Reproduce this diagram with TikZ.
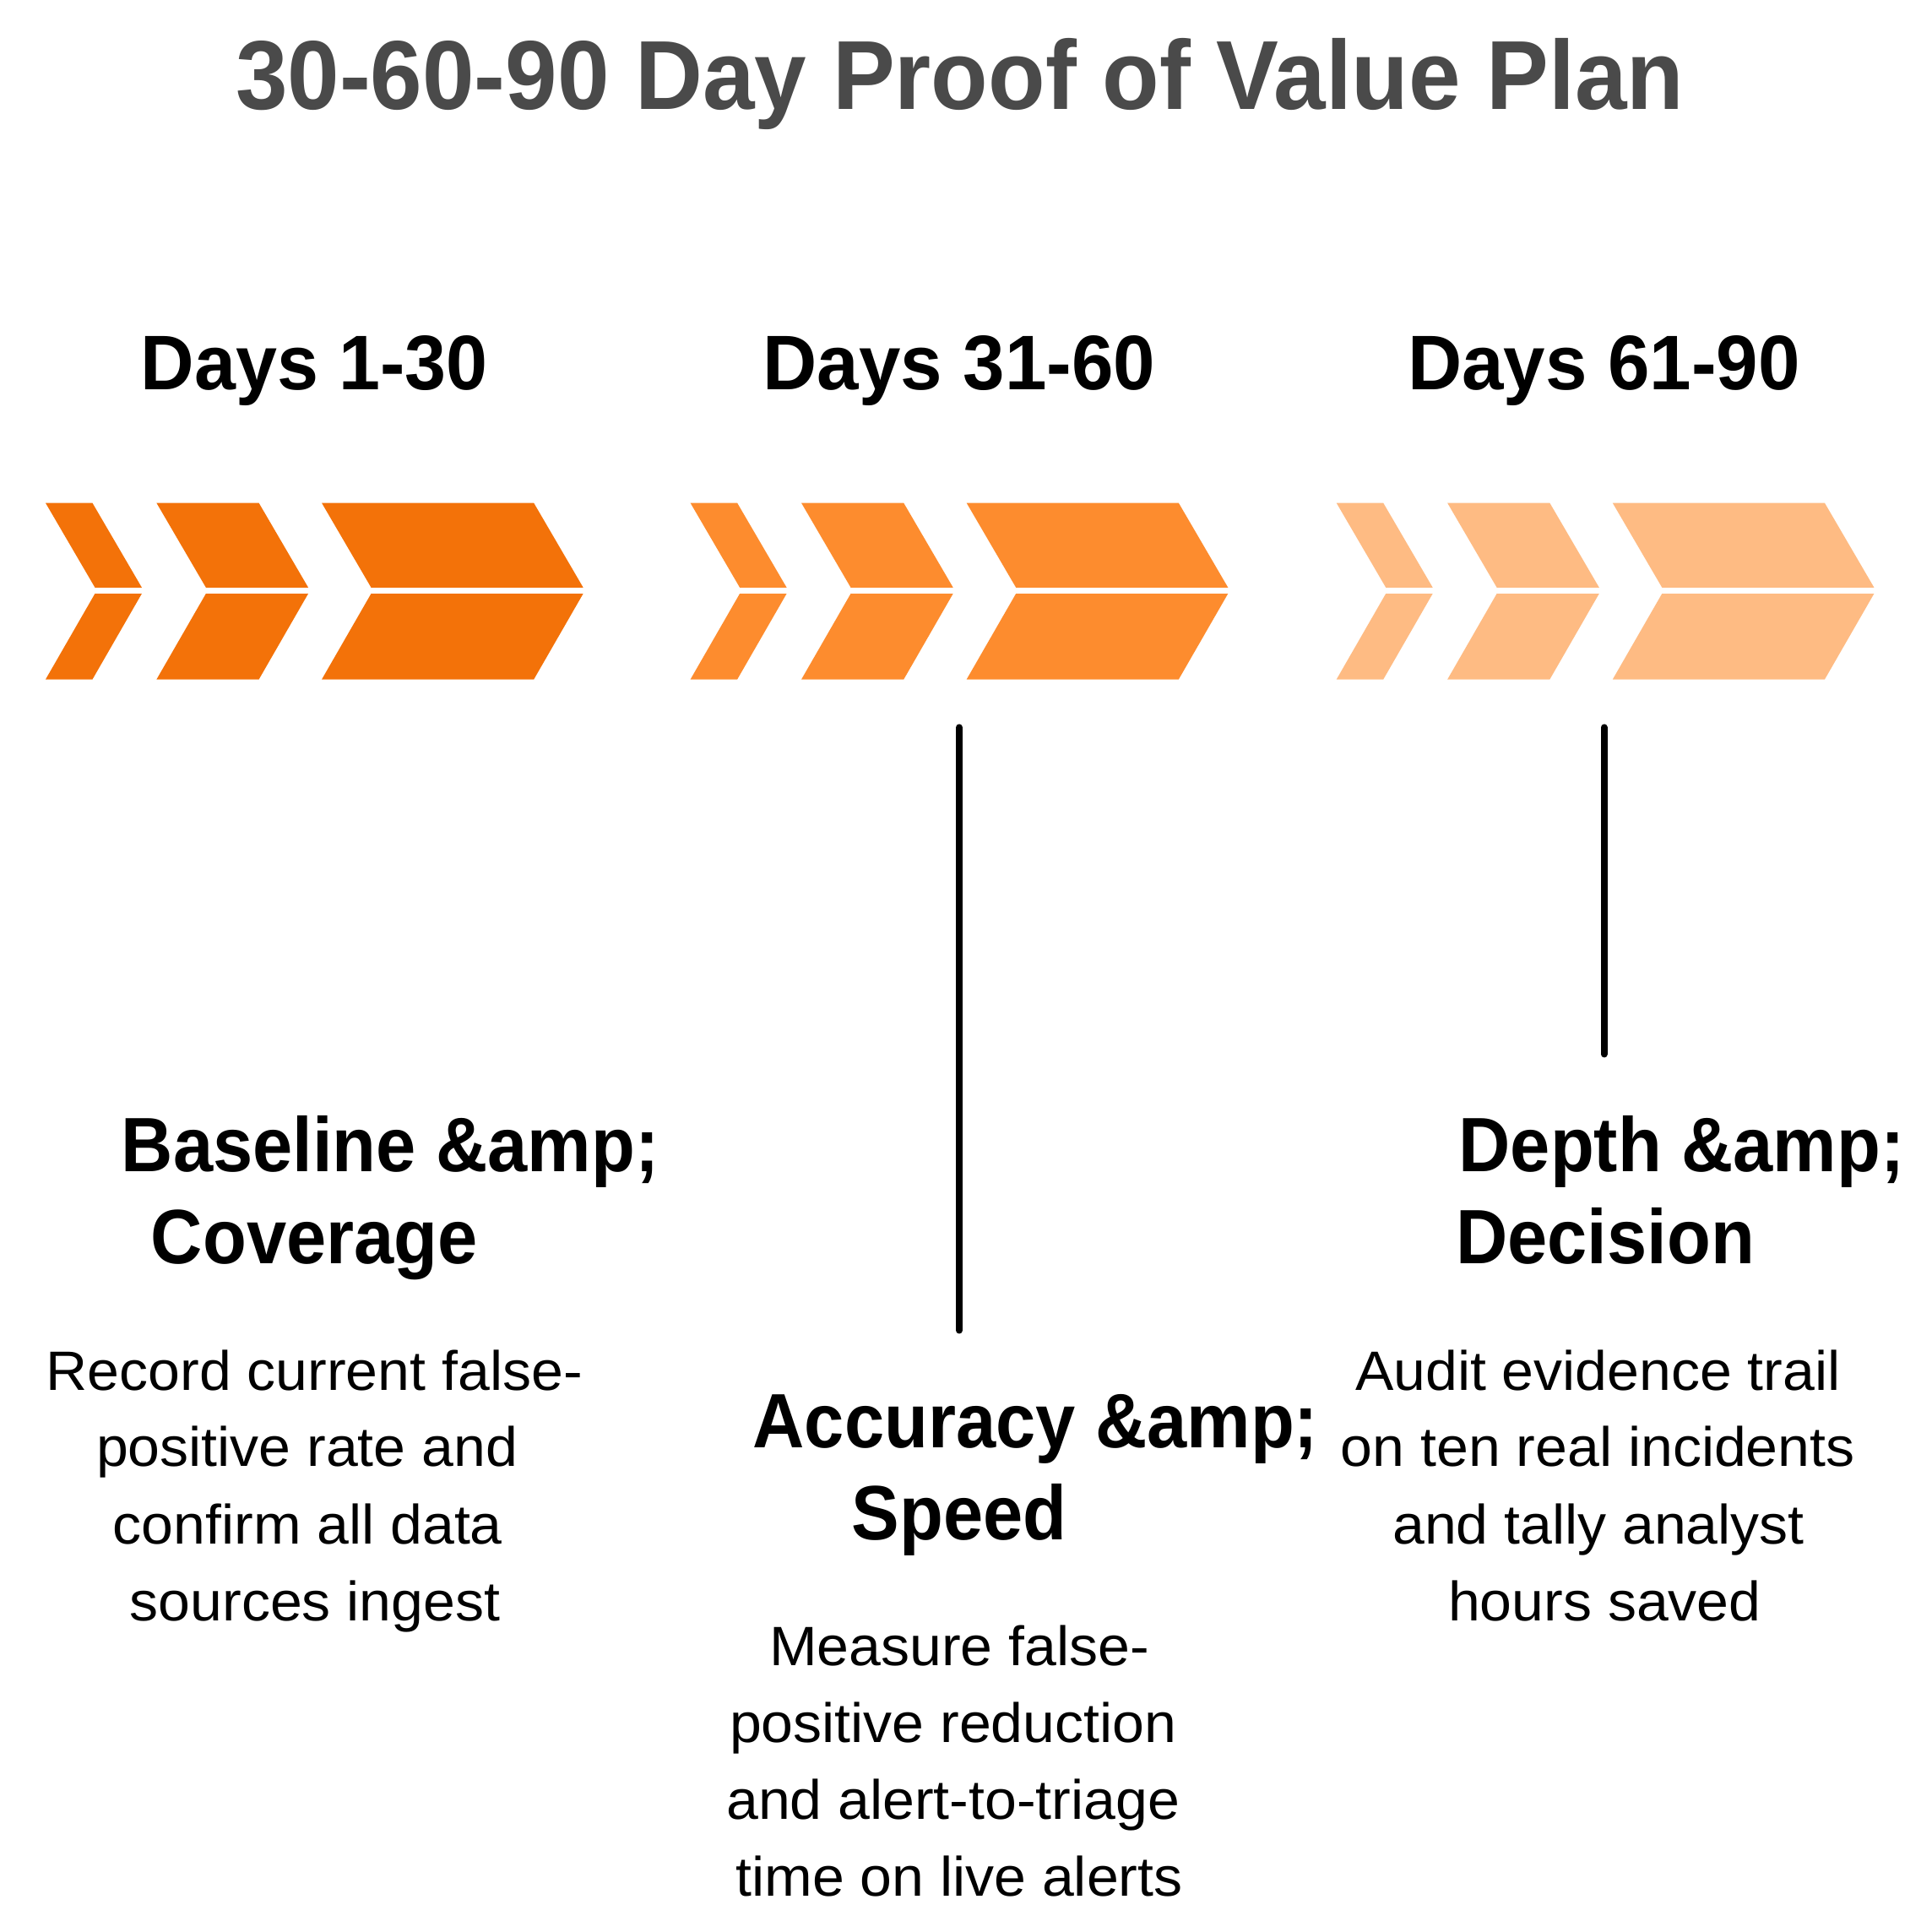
\documentclass[tikz,border=0pt]{standalone}
\usepackage{graphicx}
\usepackage{fontspec}
\setmainfont{Liberation Sans}
\definecolor{titlegray}{HTML}{4A4A4A}
\definecolor{orA}{HTML}{F37209}
\definecolor{orB}{HTML}{FD8C2E}
\definecolor{orC}{HTML}{FEBB83}
\newcommand{\hs}[2]{\scalebox{#1}[1]{#2}}
\newcommand{\chevpiece}[3]{%
  \fill[#3] (#1,408) -- ++(#2,0) -- ++(40,68.5) -- ++(-#2,0) -- cycle;
  \fill[#3] (#1+40,481.5) -- ++(#2,0) -- ++(-40,69.5) -- ++(-#2,0) -- cycle;
}
\newcommand{\chevgroup}[2]{%
  \chevpiece{37+#1}{38}{#2}
  \chevpiece{127+#1}{83}{#2}
  \chevpiece{261+#1}{172}{#2}
}
\tikzset{
  ttl/.style={font=\bfseries\fontsize{79.5bp}{95bp}\selectfont, text=titlegray, anchor=base, inner sep=0pt},
  phase/.style={font=\bfseries\fontsize{62.8bp}{75bp}\selectfont, anchor=base, inner sep=0pt},
  lbl/.style={font=\bfseries\fontsize{62.5bp}{75bp}\selectfont, anchor=base, inner sep=0pt},
  body/.style={font=\fontsize{45bp}{62bp}\selectfont, anchor=base, inner sep=0pt},
  vline/.style={line width=5.5bp, line cap=round},
}
\begin{document}
\begin{tikzpicture}[x=1bp,y=-1bp]
\useasboundingbox (0,0) rectangle (1567,1567);
\fill[white] (0,0) rectangle (1567,1567);
% title
\node[ttl] (title) at (778.5,89) {\hs{0.953}{30-60-90 Day Proof of Value Plan}};
% phase headings
\node[phase] (d1) at (255,316) {\hs{0.96}{Days 1-30}};
\node[phase] (d2) at (778,316) {\hs{0.97}{Days 31-60}};
\node[phase] (d3) at (1301,316) {\hs{0.97}{Days 61-90}};
% chevrons
\chevgroup{0}{orA}
\chevgroup{523}{orB}
\chevgroup{1047}{orC}
% vertical lines
\coordinate (l2a) at (778,590);
\coordinate (l2b) at (778,1079);
\coordinate (l3a) at (1301,590);
\coordinate (l3b) at (1301,855);
\draw[vline] (l2a) -- (l2b);
\draw[vline] (l3a) -- (l3b);
% labels
\node[lbl] (b1) at (316.5,950) {\hs{0.93}{Baseline \&amp;}};
\node[lbl] (b2) at (255,1025) {\hs{0.93}{Coverage}};
\node[lbl] (a1) at (840,1174) {\hs{0.93}{Accuracy \&amp;}};
\node[lbl] (a2) at (778,1249) {\hs{0.93}{Speed}};
\node[lbl] (p1) at (1364,950) {\hs{0.93}{Depth \&amp;}};
\node[lbl] (p2) at (1302,1025) {\hs{0.93}{Decision}};
% body texts
\node[body] (t11) at (255,1127.5) {\hs{1.035}{Record current false-}};
\node[body] (t12) at (249,1189.5) {\hs{1.035}{positive rate and}};
\node[body] (t13) at (249.5,1252) {\hs{1.035}{confirm all data}};
\node[body] (t14) at (255.5,1314.5) {\hs{1.035}{sources ingest}};
\node[body] (t21) at (778,1351) {\hs{1.035}{Measure false-}};
\node[body] (t22) at (773,1413) {\hs{1.035}{positive reduction}};
\node[body] (t23) at (773,1475.5) {\hs{1.035}{and alert-to-triage}};
\node[body] (t24) at (778,1538) {\hs{1.035}{time on live alerts}};
\node[body] (t31) at (1296,1127.5) {\hs{1.035}{Audit evidence trail}};
\node[body] (t32) at (1296,1189.5) {\hs{1.035}{on ten real incidents}};
\node[body] (t33) at (1296.5,1252) {\hs{1.035}{and tally analyst}};
\node[body] (t34) at (1301.5,1314.5) {\hs{1.035}{hours saved}};
\end{tikzpicture}
\end{document}
